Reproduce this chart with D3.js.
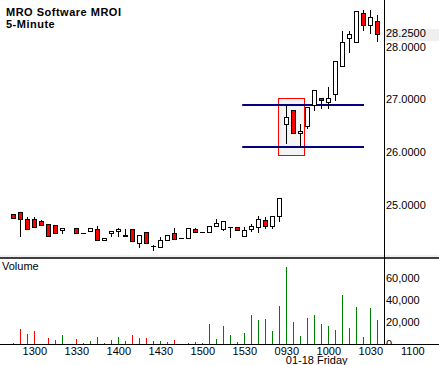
<!DOCTYPE html>
<html><head><meta charset="utf-8">
<script src="https://cdn.jsdelivr.net/npm/d3@7"></script>
<style>
html,body{margin:0;padding:0;background:#fff;}
svg{display:block;}
text{font-family:"Liberation Sans",Arial,sans-serif;}
</style></head><body>
<svg id="c" width="439" height="365"></svg>
<script>
// ---- data ----
const times = ["1245","1250","1255","1300","1305","1310","1315","1320","1325","1330","1335","1340","1345","1350","1355",
  "1400","1405","1410","1415","1420","1425","1430","1435","1440","1445","1450","1455","1500","1505","1510","1515","1520","1525",
  "1530","1535","1540","1545","1550","1555","0930","0935","0940","0945","0950","0955","1000","1005","1010","1015","1020","1025","1030","1035"];
const open  = [24.82,24.86,24.74,24.74,24.69,24.63,24.61,24.515,null,24.555,24.46,24.50,24.535,24.325,24.46,24.50,24.42,24.535,24.27,24.48,24.21,24.195,24.325,24.46,24.365,24.365,24.535,24.48,24.48,24.59,24.545,24.575,24.575,24.40,24.535,24.585,24.705,24.59,24.78,26.53,26.795,26.355,26.49,26.89,27.02,26.945,27.10,27.63,28.16,28.085,28.635,28.405,28.48];
const high  = [24.82,24.86,24.76,24.76,24.71,24.63,24.61,24.555,null,24.555,24.46,24.555,24.59,24.365,24.50,24.555,24.535,24.535,24.42,24.48,24.23,24.385,24.42,24.555,24.365,24.555,24.555,24.48,24.59,24.725,24.69,24.575,24.575,24.575,24.63,24.78,24.765,24.78,25.125,26.89,26.795,26.53,26.85,27.175,27.02,27.23,27.725,28.29,28.29,28.67,28.69,28.69,28.595];
const low   = [24.755,24.40,24.535,24.57,24.61,24.40,24.46,24.46,null,24.46,24.46,24.50,24.325,24.325,24.40,24.40,24.40,24.305,24.205,24.27,24.135,24.195,24.325,24.345,24.365,24.365,24.48,24.48,24.48,24.59,24.515,24.395,24.52,24.40,24.505,24.48,24.555,24.555,24.69,26.18,26.355,26.09,26.45,26.79,26.83,26.83,26.985,27.63,27.895,28.085,28.31,28.255,28.10];
const close = [24.755,24.74,24.535,24.57,24.61,24.40,24.46,24.555,null,24.46,24.46,24.555,24.325,24.365,24.50,24.535,24.40,24.305,24.42,24.27,24.21,24.325,24.42,24.345,24.365,24.555,24.48,24.48,24.59,24.65,24.69,24.575,24.52,24.515,24.60,24.725,24.59,24.78,25.125,26.66,26.355,26.395,26.85,27.175,26.985,27.02,27.725,28.085,28.235,28.67,28.405,28.56,28.25];
const volume = [1200,14000,9400,11800,0,5700,3900,7900,0,4800,1200,3000,6600,1200,4000,6600,3000,8500,5700,5700,3000,3000,2000,4000,0,1200,2000,1200,18500,4800,
  16000,8500,2000,10300,26700,22000,23000,12000,34800,70300,20300,7500,24000,26700,18500,16600,13000,44800,14800,33900,6600,33000,22000];
const priceTicks = [25, 26, 27, 28];
const volumeTicks = [0, 20000, 40000, 60000];
const timeTicks = ["1300","1330","1400","1430","1500","1530","0930","1000","1030","1100"];
const lastPrice = 28.25;
const rangeLevels = [26.89, 26.09];
const rangeLineSlots = [32.7, 50.1];
const boxSlots = [37.86, 41.63];
const boxPrices = [27.02, 25.94];
const title = ["MRO Software MROI", "5-Minute"];
const dateLabel = "01-18 Friday";

// ---- scales ----
const W = 439, H = 365, axisX = 384, panelBottom = 255, sepY = 258, volBase = 344;
const x = d3.scaleLinear().domain([0, 57]).range([13.3, 13.3 + 7 * 57]);
const y = d3.scaleLinear().domain([24, 29]).range([257.5, -6]);
const yv = d3.scaleLinear().domain([0, 70000]).range([volBase, volBase - 77]);
const mins = s => +s.slice(0, 2) * 60 + +s.slice(2);
function slot(label) {
  const k = times.indexOf(label);
  if (k >= 0) return k;
  const last = times[times.length - 1];
  return times.length - 1 + (mins(label) - mins(last)) / 5;
}
const px = i => Math.round(x(i));

const svg = d3.select("#c");
const font = '"Liberation Sans",Arial,sans-serif';

// faint bottom band of the price panel
svg.append("rect").attr("x", 0).attr("y", panelBottom).attr("width", W).attr("height", 2).attr("fill", "#efefef");

// title
svg.append("text").attr("x", 6).attr("y", 16).attr("font-size", 11).attr("font-weight", "bold")
  .attr("letter-spacing", "0.5px").attr("fill", "#000").text(title[0]);
svg.append("text").attr("x", 6).attr("y", 28).attr("font-size", 11).attr("font-weight", "bold")
  .attr("letter-spacing", "0.5px").attr("fill", "#000").text(title[1]);

// highlighted box
svg.append("rect")
  .attr("x", Math.round(x(boxSlots[0])) + 0.5).attr("y", Math.round(y(boxPrices[0])) + 0.5)
  .attr("width", Math.round(x(boxSlots[1]) - x(boxSlots[0])))
  .attr("height", Math.round(y(boxPrices[1]) - y(boxPrices[0])))
  .attr("fill", "#f4f4f4").attr("stroke", "#ff0000").attr("stroke-width", 1);

// range lines
svg.append("g").selectAll("line").data(rangeLevels).join("line")
  .attr("x1", x(rangeLineSlots[0])).attr("x2", x(rangeLineSlots[1]))
  .attr("y1", d => Math.round(y(d))).attr("y2", d => Math.round(y(d)))
  .attr("stroke", "#000080").attr("stroke-width", 2);

// candles
const idx = d3.range(times.length).filter(i => open[i] != null);
const cg = svg.append("g");
idx.forEach(i => {
  const cx = px(i);
  const yh = Math.round(y(high[i])), yl = Math.round(y(low[i]));
  const yo = Math.round(y(open[i])), yc = Math.round(y(close[i]));
  const top = Math.min(yo, yc), bot = Math.max(yo, yc);
  const up = close[i] >= open[i];
  if (yl - yh > 0) {
    cg.append("line").attr("x1", cx + 0.5).attr("x2", cx + 0.5).attr("y1", yh).attr("y2", yl + 1)
      .attr("stroke", "#000").attr("stroke-width", 1);
  }
  if (bot - top < 1) {
    cg.append("line").attr("x1", cx - 2).attr("x2", cx + 3).attr("y1", top + 0.5).attr("y2", top + 0.5)
      .attr("stroke", "#000").attr("stroke-width", 1);
  } else {
    cg.append("rect").attr("x", cx - 2 + 0.5).attr("y", top + 0.5).attr("width", 4).attr("height", bot - top)
      .attr("fill", up ? "#ffffff" : "#ff0000").attr("stroke", "#000").attr("stroke-width", 1);
  }
});

// price axis
const ya = svg.append("g").attr("transform", `translate(${axisX},0)`)
  .call(d3.axisRight(y).tickValues(priceTicks).tickFormat(d3.format(".4f")).tickSize(0).tickPadding(2));
ya.select(".domain").remove();
ya.selectAll("text").attr("font-size", 11).attr("font-family", font).attr("fill", "#000");

// last price label
svg.append("rect").attr("x", axisX + 1).attr("y", Math.round(y(lastPrice)) - 5).attr("width", W - axisX - 1).attr("height", 12).attr("fill", "#efefef");
svg.append("text").attr("x", axisX + 2).attr("y", y(lastPrice)).attr("dy", "0.32em")
  .attr("font-size", 11).attr("fill", "#000").text(d3.format(".4f")(lastPrice));

// volume panel
svg.append("text").attr("x", 2).attr("y", 270).attr("font-size", 11).attr("fill", "#000").text("Volume");
svg.append("g").selectAll("rect").data(d3.range(times.length).filter(i => volume[i] > 0)).join("rect")
  .attr("x", i => px(i)).attr("width", 1)
  .attr("y", i => Math.round(yv(volume[i]))).attr("height", i => volBase - Math.round(yv(volume[i])))
  .attr("fill", i => (open[i] != null && close[i] < open[i]) ? "#ff0000" : "#008000");

svg.append("defs").append("clipPath").attr("id", "vclip").append("rect")
  .attr("x", 0).attr("y", sepY).attr("width", W).attr("height", volBase - sepY);
const va = svg.append("g").attr("clip-path", "url(#vclip)").append("g").attr("transform", `translate(${axisX},0)`)
  .call(d3.axisRight(yv).tickValues(volumeTicks).tickFormat(d3.format(",")).tickSize(0).tickPadding(2));
va.select(".domain").remove();
va.selectAll("text").attr("font-size", 11).attr("font-family", font).attr("fill", "#000");

// frame lines
svg.append("line").attr("x1", axisX + 0.5).attr("x2", axisX + 0.5).attr("y1", 0).attr("y2", volBase + 1)
  .attr("stroke", "#000").attr("stroke-width", 1);
svg.append("line").attr("x1", 0).attr("x2", W).attr("y1", sepY).attr("y2", sepY)
  .attr("stroke", "#000").attr("stroke-width", 1.5);
svg.append("line").attr("x1", 0).attr("x2", W).attr("y1", volBase + 0.5).attr("y2", volBase + 0.5)
  .attr("stroke", "#000").attr("stroke-width", 1);

// time axis
const xa = svg.append("g").attr("transform", `translate(0,${volBase})`)
  .call(d3.axisBottom(x).tickValues(timeTicks.map(slot)).tickFormat((d, j) => timeTicks[j]).tickSize(0).tickPadding(3));
xa.select(".domain").remove();
xa.selectAll("text").attr("font-size", 11).attr("font-family", font).attr("fill", "#000");
svg.append("text").attr("x", x(slot("0930")) - 0.5).attr("y", 364).attr("font-size", 11).attr("fill", "#000").text(dateLabel);
</script>
</body></html>
